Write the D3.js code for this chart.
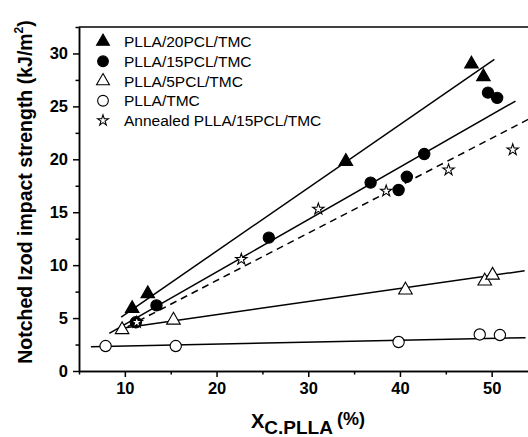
<!DOCTYPE html>
<html>
<head>
<meta charset="utf-8">
<script src="https://cdn.jsdelivr.net/npm/d3@7"></script>
<style>
  body { margin: 0; background: #fff; }
  svg { display: block; font-family: "Liberation Sans", Arial, sans-serif; }
  .axis text { font-size: 16.5px; font-weight: bold; fill: #000; }
  .axis path, .axis line { stroke: #000; stroke-width: 1.5; }
  .legend text { font-size: 15.5px; fill: #000; }
</style>
</head>
<body>
<script>
// values
var series = ["PLLA/20PCL/TMC", "PLLA/15PCL/TMC", "PLLA/5PCL/TMC", "PLLA/TMC", "Annealed PLLA/15PCL/TMC"];

var x20 = [10.8, 12.5, 34.1, 47.8, 49.1];
var y20 = [5.9, 7.3, 19.8, 29.0, 27.8];

var x15 = [11.2, 13.45, 25.7, 36.8, 39.85, 40.75, 42.65, 49.6, 50.6];
var y15 = [4.6, 6.2, 12.6, 17.8, 17.1, 18.35, 20.5, 26.3, 25.8];

var x5 = [9.7, 15.3, 40.6, 49.25, 50.1];
var y5 = [3.9, 4.8, 7.65, 8.5, 9.05];

var x0 = [7.9, 15.55, 39.85, 48.7, 50.9];
var y0 = [2.36, 2.36, 2.74, 3.45, 3.4];

var xA = [11.3, 22.7, 31.1, 38.5, 45.3, 52.3];
var yA = [4.6, 10.55, 15.3, 17.0, 19.0, 20.9];

// linear fits, start and end points
var fit20 = [[9.6, 5.1], [50.3, 29.45]];
var fit15 = [[8.3, 3.55], [52.6, 25.5]];
var fit5 = [[9.3, 4.0], [53.6, 9.47]];
var fit0 = [[6.3, 2.3], [53.7, 3.15]];
var fitA = [[10.3, 4.2], [54.5, 24.0]];

var xMajor = [10, 20, 30, 40, 50];
var xMinor = [5, 15, 25, 35, 45, 55];
var yMajor = [0, 5, 10, 15, 20, 25, 30];
var yMinor = [2.5, 7.5, 12.5, 17.5, 22.5, 27.5, 32.5];

var width = 528, height = 437;

var x = d3.scaleLinear().domain([5, 55]).range([79, 537.5]);
var y = d3.scaleLinear().domain([0, 32.5]).range([371, 27]);

var svg = d3.select("body").append("svg")
  .attr("width", width)
  .attr("height", height);

// axes
svg.append("g").attr("class", "axis")
  .attr("transform", "translate(0,371)")
  .call(d3.axisBottom(x).tickValues(xMajor).tickSize(6).tickSizeOuter(0).tickPadding(5));
svg.append("g").attr("class", "axis")
  .attr("transform", "translate(0,371)")
  .call(d3.axisBottom(x).tickValues(xMinor).tickSize(3.5).tickSizeOuter(0).tickFormat(""));

svg.append("g").attr("class", "axis")
  .attr("transform", "translate(79,0)")
  .call(d3.axisLeft(y).tickValues(yMajor).tickSize(6).tickSizeOuter(0).tickPadding(5));
svg.append("g").attr("class", "axis")
  .attr("transform", "translate(79,0)")
  .call(d3.axisLeft(y).tickValues(yMinor).tickSize(3.5).tickSizeOuter(0).tickFormat(""));

// top frame
svg.append("line")
  .attr("x1", x(5)).attr("x2", x(55))
  .attr("y1", y(32.5)).attr("y2", y(32.5))
  .attr("stroke", "#000").attr("stroke-width", 1.5);

// fitted lines
var line = d3.line().x(function(d) { return x(d[0]); }).y(function(d) { return y(d[1]); });
[fit20, fit15, fit5, fit0].forEach(function(f) {
  svg.append("path").attr("d", line(f))
    .attr("fill", "none").attr("stroke", "#000").attr("stroke-width", 1.5);
});
svg.append("path").attr("d", line(fitA))
  .attr("fill", "none").attr("stroke", "#000").attr("stroke-width", 1.5)
  .attr("stroke-dasharray", "7,5");

// markers
var marks = [
  { xs: x20, ys: y20, type: d3.symbolTriangle, size: 80, fill: "#000" },
  { xs: x15, ys: y15, type: d3.symbolCircle, size: 100, fill: "#000" },
  { xs: x5, ys: y5, type: d3.symbolTriangle, size: 80, fill: "#fff" },
  { xs: x0, ys: y0, type: d3.symbolCircle, size: 100, fill: "#fff" },
  { xs: xA, ys: yA, type: d3.symbolStar, size: 40, fill: "#fff" }
];

marks.forEach(function(m) {
  svg.append("g").selectAll("path")
    .data(m.xs)
  .enter().append("path")
    .attr("transform", function(d, i) { return "translate(" + x(d) + "," + y(m.ys[i]) + ")"; })
    .attr("d", d3.symbol().type(m.type).size(m.size))
    .attr("fill", m.fill)
    .attr("stroke", "#000")
    .attr("stroke-width", 1.1);
});

// legend
var legend = svg.append("g").attr("class", "legend");
series.forEach(function(s, i) {
  var ly = 41.5 + i * 19.75;
  legend.append("path")
    .attr("transform", "translate(103," + ly + ")")
    .attr("d", d3.symbol().type(marks[i].type).size(marks[i].size * 0.9))
    .attr("fill", marks[i].fill)
    .attr("stroke", "#000")
    .attr("stroke-width", 1.1);
  legend.append("text")
    .attr("x", 124)
    .attr("y", ly + 5.5)
    .text(s);
});

// axis titles
var yt = svg.append("text")
  .attr("transform", "translate(32,192) rotate(-90)")
  .attr("text-anchor", "middle")
  .attr("font-size", "19.5px")
  .attr("font-weight", "bold");
yt.append("tspan").text("Notched Izod impact strength (kJ/m");
yt.append("tspan").attr("dy", -9).attr("font-size", "12px").text("2");
yt.append("tspan").attr("dy", 9).text(")");

var xt = svg.append("text")
  .attr("x", 251)
  .attr("y", 428)
  .attr("font-weight", "bold");
xt.append("tspan").attr("font-size", "20px").text("X");
xt.append("tspan").attr("font-size", "19px").attr("dy", 6).text("C.PLLA");
xt.append("tspan").attr("font-size", "18px").attr("dx", 4).attr("dy", -9.5).text("(%)");
</script>
</body>
</html>
